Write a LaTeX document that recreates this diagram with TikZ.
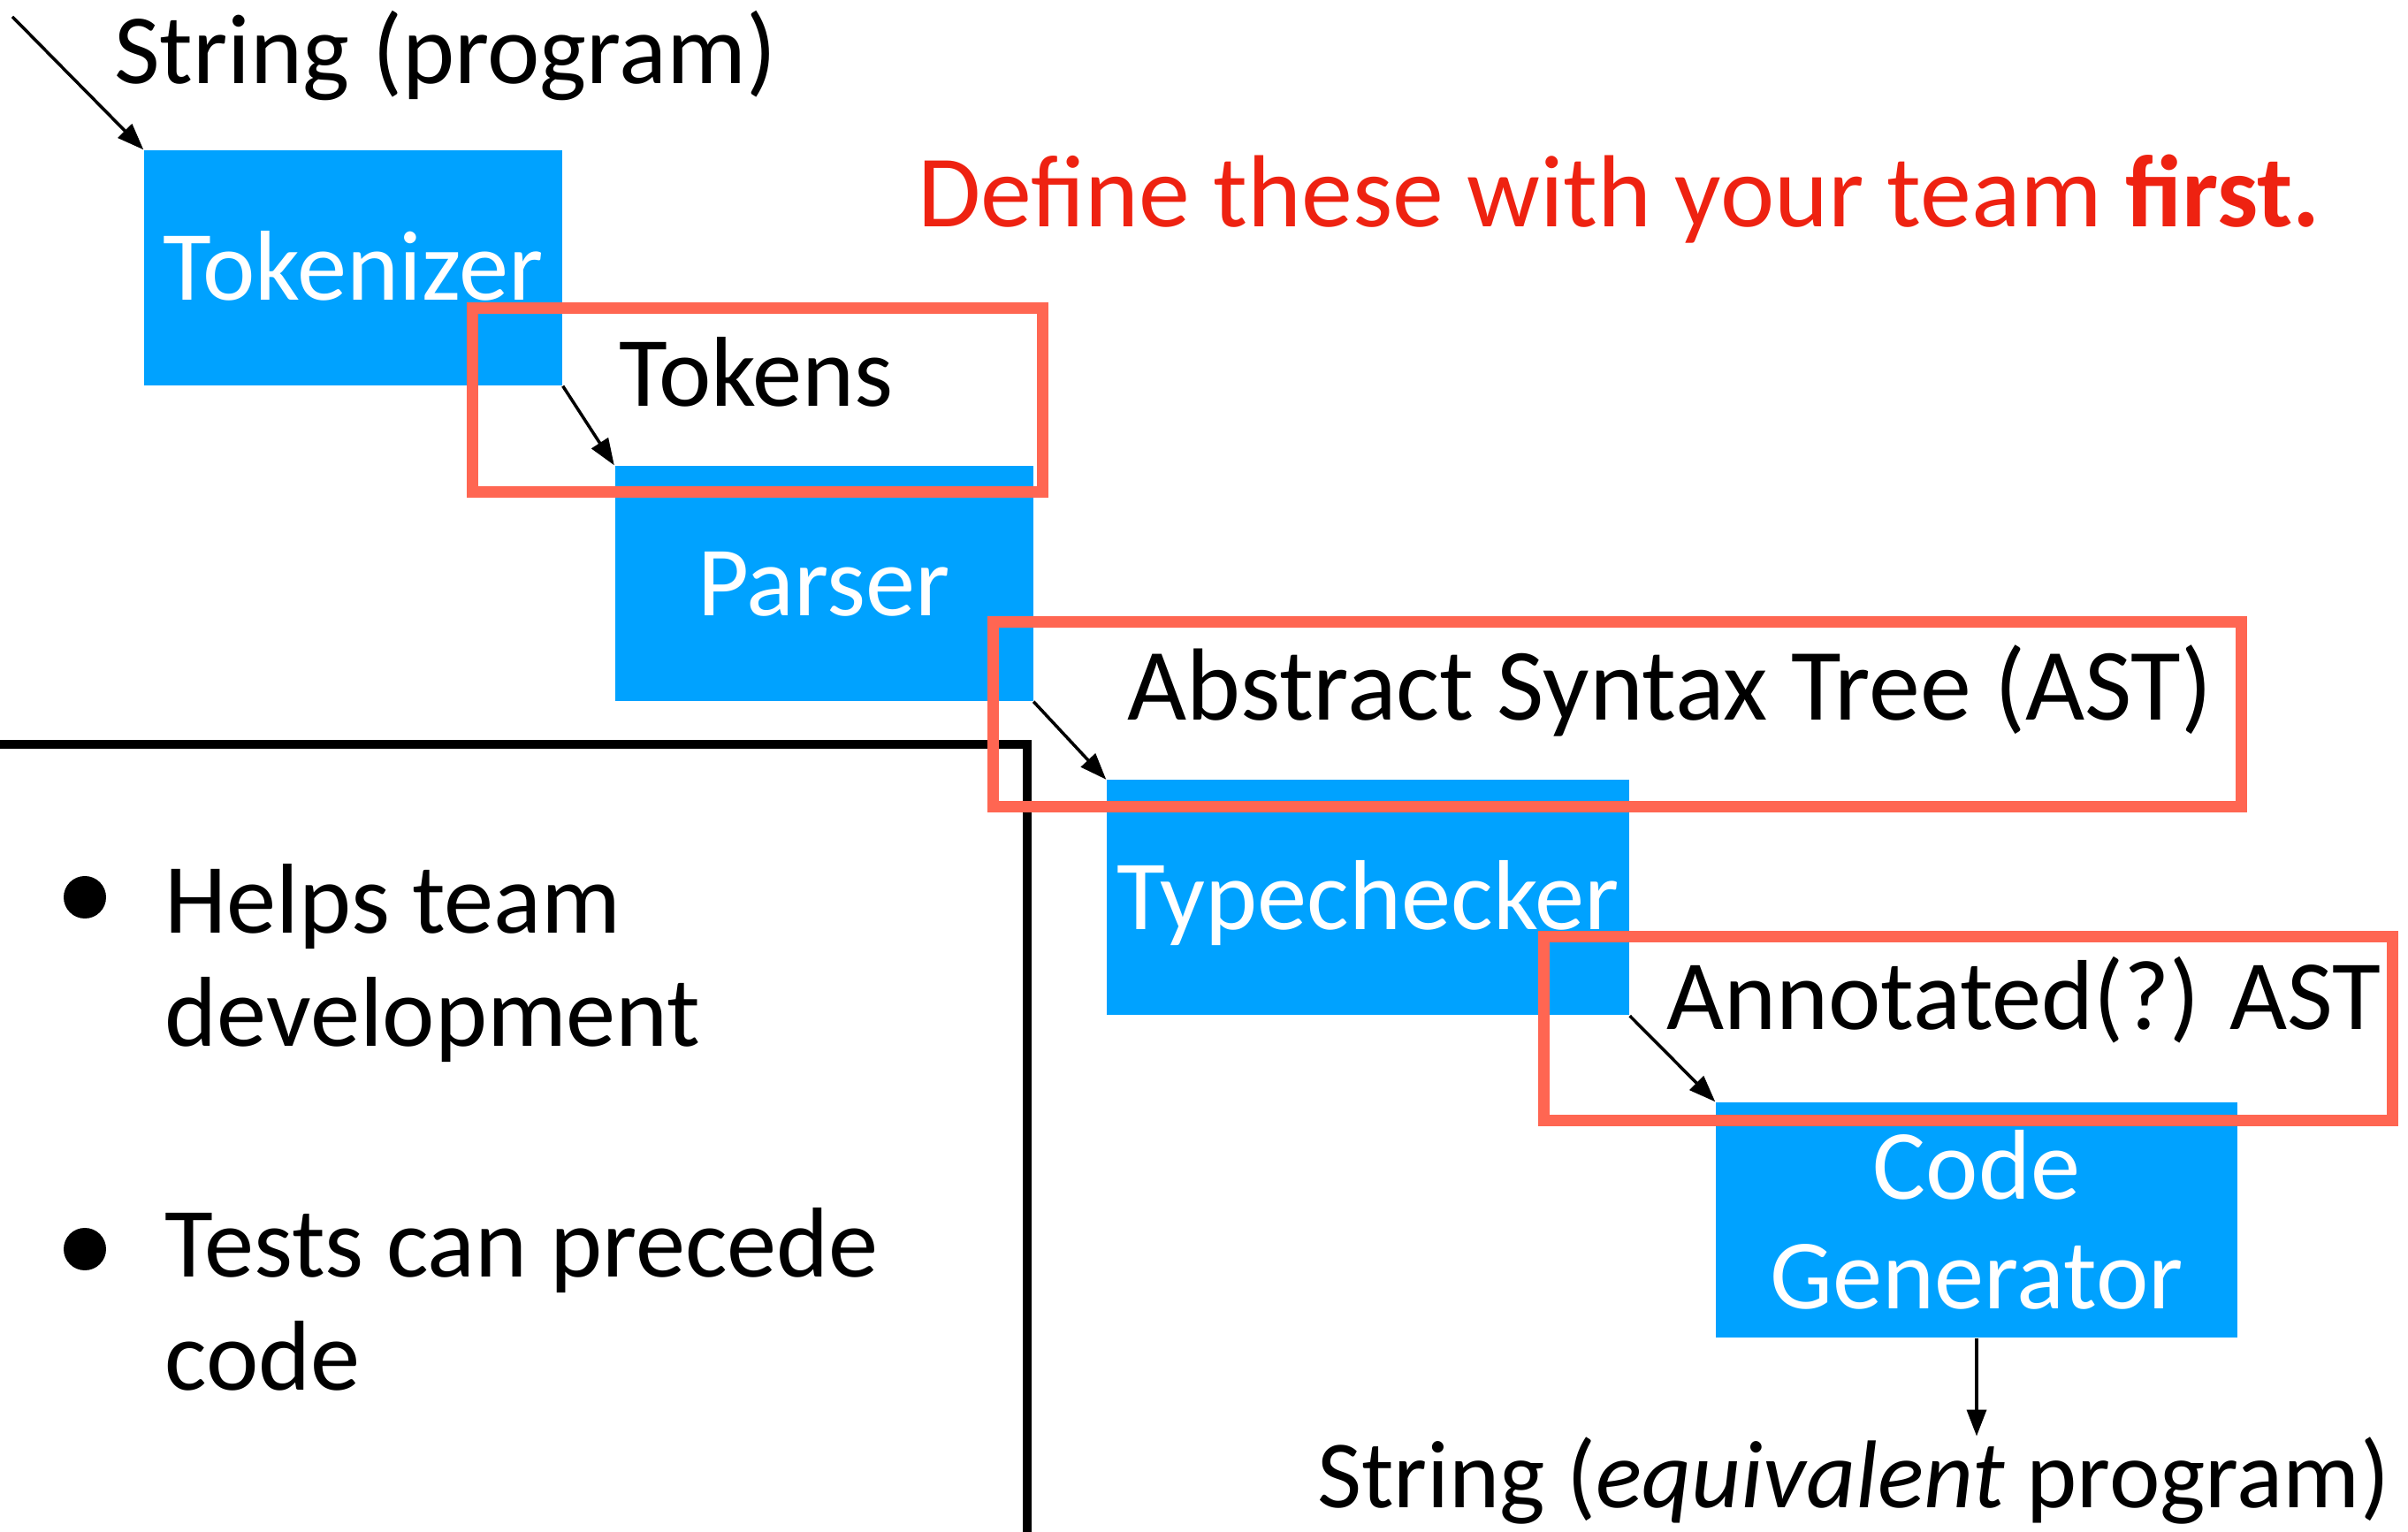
\documentclass[tikz,border=0pt]{standalone}
\usepackage{fontspec}
\setmainfont{Carlito}
\usetikzlibrary{arrows.meta,positioning}
\definecolor{stageblue}{RGB}{0,162,255}
\definecolor{framered}{RGB}{255,102,82}
\definecolor{titlered}{RGB}{238,34,17}

\begin{document}
\begin{tikzpicture}[
        stage/.style={fill=stageblue, minimum width=4.73cm, minimum height=2.66cm, inner sep=0pt, align=center, text=white, font=\fontsize{32}{35.2}\selectfont},
        oneline/.style={text height=0.73cm, text depth=0pt},
        defbox/.style={draw=framered, line width=0.13cm, inner sep=0pt},
        lbl/.style={anchor=base, inner sep=0pt, font=\fontsize{32}{36.7}\selectfont},
        wide/.style={font=\fontsize{33}{36.7}\selectfont},
        item/.style={anchor=base west, inner sep=0pt, align=left, font=\fontsize{32}{36.7}\selectfont},
        dot/.style={circle, fill=black, inner sep=0pt, minimum size=0.48cm},
        arrow/.style={-{Triangle[length=0.3cm, width=0.22cm]}, line width=1pt}
    ]
    \useasboundingbox (0,0) rectangle (27.24,-17.33);
    \node[stage, oneline] (tok) at (3.995,-3.03) {Tokenizer};
    \node[stage, oneline] (par) at (9.32,-6.60) {Parser};
    \node[stage, oneline, minimum width=5.91cm] (typ) at (15.475,-10.155) {Typechecker};
    \node[stage, minimum width=5.90cm] (gen) at (22.36,-13.80) {Code\\Generator};
    \draw[line width=0.1cm] (0,-8.42) -| (11.62,-17.6);
    \node[lbl] (src) at (5.04,-0.95) {String (program)};
    \node[lbl] (tokens) at (8.555,-4.60) {Tokens};
    \node[lbl, wide] (ast) at (18.89,-8.15) {Abstract Syntax Tree (AST)};
    \node[lbl] (annot) at (22.895,-11.65) {Annotated(?) AST};
    \node[lbl, font=\fontsize{31}{36.7}\selectfont] (out) at (20.965,-17.05) {String (\textit{equivalent} program)};
    \node[lbl, wide, text=titlered] (title) at (18.315,-2.57) {Define these with your team \textbf{first.}};
    \node[item] (helps) at (1.86,-11.84) {Helps team\\development};
    \node[item] (tests) at (1.86,-15.73) {Tests can precede\\code};
    \node[dot] (dot1) at (0.96,-10.15) {};
    \node[dot] (dot2) at (0.96,-14.13) {};
    \coordinate (start) at (0.14,-0.19);
    \draw[arrow] (start) -- (tok.north west);
    \draw[arrow] (tok.south east) -- (par.north west);
    \draw[arrow] (par.south east) -- (typ.north west);
    \draw[arrow] (typ.south east) -- (gen.north west);
    \draw[arrow] (gen.south) -- (gen.south |- out.north);
    \node[defbox, minimum width=6.45cm, minimum height=2.08cm] (tokframe) at (8.565,-4.53) {};
    \node[defbox, minimum width=14.12cm, minimum height=2.09cm] (astframe) at (18.29,-8.085) {};
    \node[defbox, minimum width=9.60cm, minimum height=2.08cm] (annotframe) at (22.26,-11.64) {};
\end{tikzpicture}
\end{document}
